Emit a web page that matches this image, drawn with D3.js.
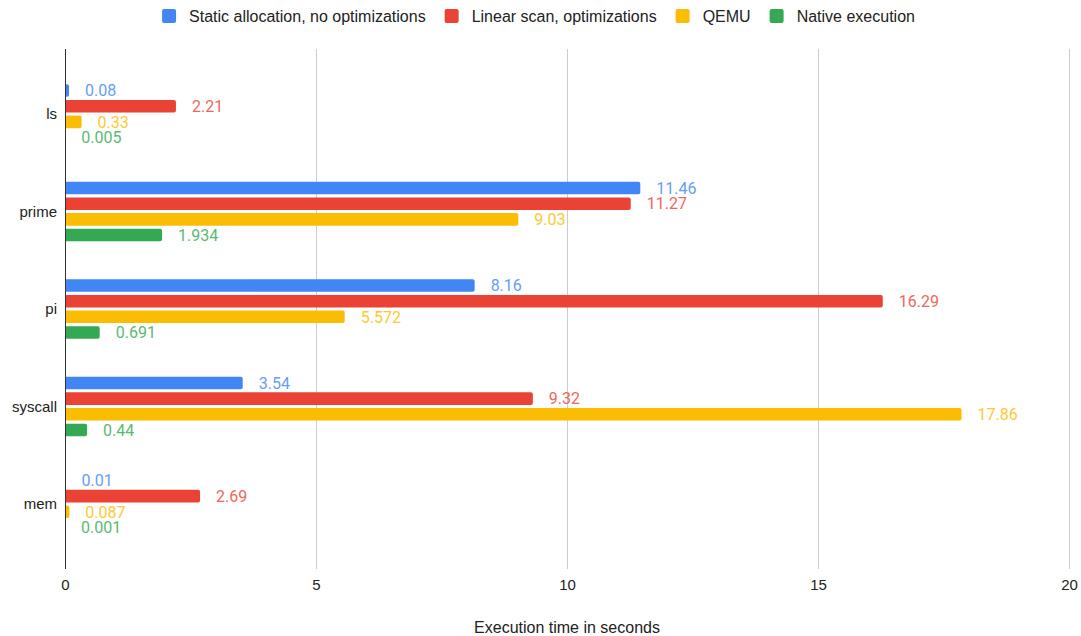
<!DOCTYPE html>
<html><head><meta charset="utf-8">
<script src="https://cdn.jsdelivr.net/npm/d3@7"></script>
<style>
html,body{margin:0;padding:0;background:#fff;}
svg{display:block;}
</style></head>
<body>
<svg id="chart" width="1081" height="636"></svg>
<script>
const categories = ["ls", "prime", "pi", "syscall", "mem"];
const seriesNames = ["Static allocation, no optimizations", "Linear scan, optimizations", "QEMU", "Native execution"];
const staticAlloc = [0.08, 11.46, 8.16, 3.54, 0.01];
const linearScan = [2.21, 11.27, 16.29, 9.32, 2.69];
const qemu = [0.33, 9.03, 5.572, 17.86, 0.087];
const native = [0.005, 1.934, 0.691, 0.44, 0.001];
const labelStatic = ["0.08", "11.46", "8.16", "3.54", "0.01"];
const labelLinear = ["2.21", "11.27", "16.29", "9.32", "2.69"];
const labelQemu = ["0.33", "9.03", "5.572", "17.86", "0.087"];
const labelNative = ["0.005", "1.934", "0.691", "0.44", "0.001"];
const xTicks = [0, 5, 10, 15, 20];
const xTitle = "Execution time in seconds";

const barColors = ["#4285f4", "#ea4335", "#fbbc04", "#34a853"];
const labelColors = ["#669df6", "#ee675c", "#fcc934", "#5bb974"];
const seriesValues = [staticAlloc, linearScan, qemu, native];
const seriesLabels = [labelStatic, labelLinear, labelQemu, labelNative];

const svg = d3.select("#chart");
const plot = {left: 65, right: 1069, top: 49, bottom: 569};
const font = "Arial, 'Liberation Sans', sans-serif";
const numFont = "Roboto, Arial, sans-serif";

const x = d3.scaleLinear().domain([0, 20]).range([plot.left, plot.right]);
const y = d3.scalePoint().domain(categories).range([plot.top, plot.bottom]).padding(0.667);
const inner = d3.scaleBand().domain(d3.range(4)).range([-29.8, 29.8]).paddingInner(0.2);

// gridlines
svg.append("g").selectAll("line").data(xTicks.filter(t => t !== 0)).join("line")
  .attr("x1", d => x(d)).attr("x2", d => x(d))
  .attr("y1", plot.top).attr("y2", plot.bottom)
  .attr("stroke", "#cccccc").attr("stroke-width", 1).attr("shape-rendering", "crispEdges");

// x tick labels via axis
const xAxis = d3.axisBottom(x).tickValues(xTicks).tickSize(0).tickPadding(0).tickFormat(d3.format("d"));
const gx = svg.append("g").attr("transform", `translate(0,${plot.bottom + 10})`).call(xAxis);
gx.select(".domain").remove();
gx.selectAll("text").attr("font-family", font).attr("font-size", 15).attr("fill", "#222").attr("dy", "0.71em");

// y category labels via axis
const yAxis = d3.axisLeft(y).tickSize(0).tickPadding(8);
const gy = svg.append("g").attr("transform", `translate(${plot.left},0)`).call(yAxis);
gy.select(".domain").remove();
gy.selectAll("text").attr("font-family", font).attr("font-size", 15).attr("fill", "#222");

// bars
function barPath(x0, x1, y0, h, r) {
  const w = x1 - x0;
  if (w <= 0) return "";
  const rr = Math.min(r, w, h / 2);
  return `M${x0},${y0}H${x1 - rr}Q${x1},${y0} ${x1},${y0 + rr}V${y0 + h - rr}Q${x1},${y0 + h} ${x1 - rr},${y0 + h}H${x0}Z`;
}
const rows = [];
categories.forEach((c, i) => {
  seriesValues.forEach((vals, s) => {
    rows.push({cat: c, s, v: vals[i], label: seriesLabels[s][i]});
  });
});
const gb = svg.append("g");
gb.selectAll("path").data(rows).join("path")
  .attr("d", d => barPath(x(0), x(d.v), y(d.cat) + inner(d.s), inner.bandwidth(), 2))
  .attr("fill", d => barColors[d.s]);

gb.selectAll("text").data(rows).join("text")
  .attr("x", d => x(d.v) + 16)
  .attr("y", d => y(d.cat) + inner(d.s) + inner.bandwidth() / 2)
  .attr("dy", "0.36em")
  .attr("font-family", numFont).attr("font-size", 16)
  .attr("fill", d => labelColors[d.s])
  .text(d => d.label);

// y axis baseline
svg.append("line").attr("x1", x(0)).attr("x2", x(0)).attr("y1", plot.top).attr("y2", plot.bottom)
  .attr("stroke", "#333").attr("stroke-width", 1).attr("shape-rendering", "crispEdges");

// x title
svg.append("text").attr("x", (plot.left + plot.right) / 2).attr("y", 633)
  .attr("text-anchor", "middle").attr("font-family", font).attr("font-size", 16).attr("fill", "#222")
  .text(xTitle);

// legend
const lg = svg.append("g");
const items = lg.selectAll("g").data(seriesNames).join("g");
items.append("rect").attr("width", 14).attr("height", 14).attr("rx", 2).attr("y", -7)
  .attr("fill", (d, i) => barColors[i]);
items.append("text").attr("x", 27).attr("dy", "0.35em")
  .attr("font-family", font).attr("font-size", 16).attr("fill", "#222").text(d => d);
const widths = [];
items.each(function() { widths.push(27 + this.querySelector("text").getComputedTextLength()); });
const gap = 19;
const total = d3.sum(widths) + gap * (widths.length - 1);
let cx = 538.5 - total / 2;
items.attr("transform", (d, i) => { const t = `translate(${cx},16)`; cx += widths[i] + gap; return t; });
</script>
</body></html>
